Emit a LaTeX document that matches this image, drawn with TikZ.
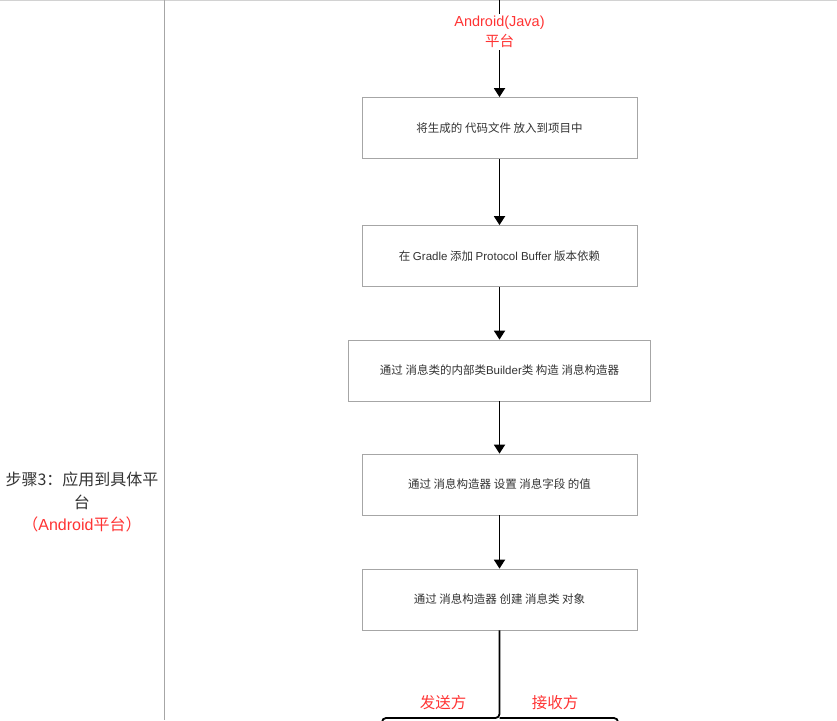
\documentclass[tikz,border=0pt]{standalone}
\usepackage{fontspec}
\setmainfont{Noto Sans CJK SC}
\newfontfamily\latf{Liberation Sans}
\newcommand\lat[1]{{\latf #1}}
\usetikzlibrary{arrows.meta}
\definecolor{redt}{HTML}{FF3333}
\definecolor{txt}{HTML}{333333}
\definecolor{bord}{HTML}{A6A6A6}
\begin{document}
\begin{tikzpicture}[x=1pt,y=-1pt,
  stepbox/.style={draw=bord,line width=0.8pt,fill=white,minimum height=61pt,text=txt,
    font=\fontsize{11.5}{14}\selectfont,inner sep=0pt},
  flow/.style={line width=1.8pt,-{Triangle[width=11pt,length=9pt]}},
  plain/.style={line width=1.8pt},
  redlbl/.style={text=redt,font=\fontsize{15.5}{18}\selectfont,align=center,inner sep=1pt}]
\useasboundingbox (0,0) rectangle (837,720);
\clip (0,0) rectangle (837,720);
\draw[gray!35,line width=0.8pt] (0,0.5) -- (837,0.5);
\draw[bord,line width=1.2pt] (164.5,0) -- (164.5,720);

\node[text=txt,align=center,font=\fontsize{16}{22.5}\selectfont] (step) at (82,502)
  {步骤3：应用到具体平\\台\\{\color{redt}（\lat{Android}平台）}};

\coordinate (top) at (499.5,0);
\node[text=redt,align=center,font=\fontsize{14.5}{20}\selectfont,inner sep=2pt] (plat) at (499.5,32)
  {\lat{Android(Java)}\\平台};

\node[stepbox,minimum width=275pt] (b1) at (499.5,128) {将生成的 代码文件 放入到项目中};
\node[stepbox,minimum width=275pt] (b2) at (499.5,256) {在 \lat{Gradle} 添加 \lat{Protocol Buffer} 版本依赖};
\node[stepbox,minimum width=302pt] (b3) at (499.5,370.5) {通过 消息类的内部类\lat{Builder}类 构造 消息构造器};
\node[stepbox,minimum width=275pt] (b4) at (499.5,484.5) {通过 消息构造器 设置 消息字段 的值};
\node[stepbox,minimum width=275pt] (b5) at (499.5,599.5) {通过 消息构造器 创建 消息类 对象};

\draw[plain] (top) -- (plat);
\draw[flow] (plat) -- (b1);
\draw[flow] (b1) -- (b2);
\draw[flow] (b2) -- (b3);
\draw[flow] (b3) -- (b4);
\draw[flow] (b4) -- (b5);

\coordinate (split) at (499.5,718);
\coordinate (sendend) at (382,740);
\coordinate (recvend) at (618,740);
\draw[plain,rounded corners=4pt] (b5.south) -- (split) -| (sendend);
\draw[plain,rounded corners=4pt] (split) -| (recvend);

\node[redlbl] (send) at (443,703) {发送方};
\node[redlbl] (recv) at (555,703) {接收方};
\end{tikzpicture}
\end{document}
